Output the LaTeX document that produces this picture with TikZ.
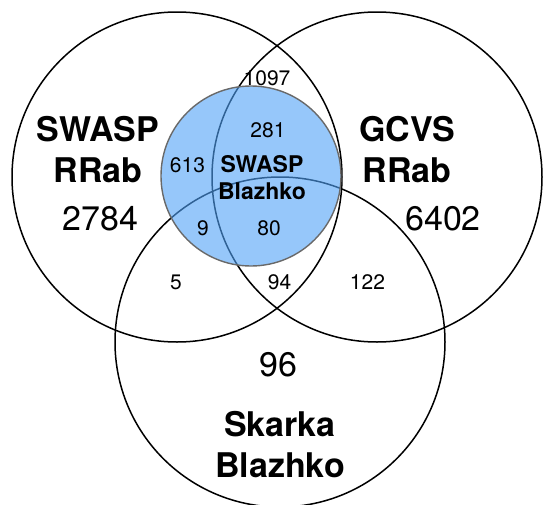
\documentclass[tikz,border=0pt]{standalone}
\usepackage{fontspec}
\setmainfont{TeX Gyre Heros}
\usepackage{xcolor}
\usepackage{tikz}
\usetikzlibrary{positioning}
\definecolor{blazblue}{RGB}{80,162,247}
\definecolor{rimgray}{RGB}{105,105,105}

\begin{document}
\begin{tikzpicture}[
        x=1pt,y=-1pt,
        set/.style={circle,draw=black,line width=1.5pt,minimum size=330pt,inner sep=0pt},
        blaz/.style={circle,draw=rimgray,line width=1.4pt,fill=blazblue,fill opacity=0.6,minimum size=180pt,inner sep=0pt},
        title/.style={align=center,inner sep=0pt,font=\bfseries\fontsize{34}{41}\selectfont},
        subtitle/.style={align=center,inner sep=0pt,font=\bfseries\fontsize{23}{27}\selectfont},
        bignum/.style={anchor=base,inner sep=0pt,font=\fontsize{34}{38}\selectfont},
        num/.style={anchor=base,inner sep=0pt,font=\fontsize{21}{24}\selectfont}
    ]
        \useasboundingbox (0,0) rectangle (544,504);
        \node[set] (swasp) at (177,177) {};
        \node[set] (gcvs) at (377,177) {};
        \node[set] (skarka) at (280,342) {};
        \node[blaz] (sblaz) at (251,176) {};

        \node[title] (swasplab) at (98,149.5) {SWASP\\RRab};
        \node[title] (gcvslab) at (407,149.5) {GCVS\\RRab};
        \node[title] (skarkalab) at (280,445) {Skarka\\Blazhko};
        \node[subtitle] (sblazlab) at (262,177.5) {SWASP\\Blazhko};

        \node[bignum] (n2784) at (100.5,230) {2784};
        \node[bignum] (n6402) at (443,230) {6402};
        \node[bignum] (n96) at (278,376.5) {96};
        \node[num] (n1097) at (267,85) {1097};
        \node[num] (n281) at (268,137) {281};
        \node[num] (n613) at (187.5,172) {613};
        \node[num] (n9) at (203,235) {9};
        \node[num] (n80) at (269,235) {80};
        \node[num] (n5) at (176,289) {5};
        \node[num] (n94) at (279.5,289) {94};
        \node[num] (n122) at (367.5,289) {122};
    \end{tikzpicture}
\end{document}
